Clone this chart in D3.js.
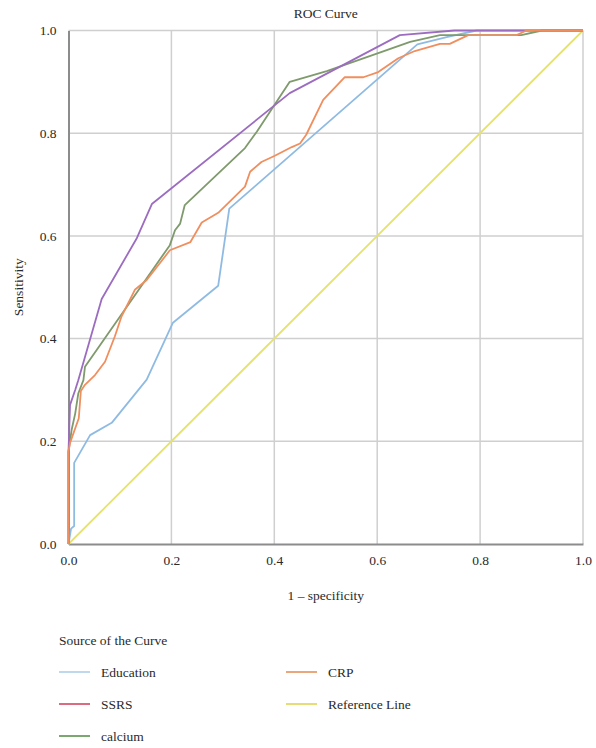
<!DOCTYPE html>
<html lang="en">
<head>
    <meta charset="UTF-8">
    <title>ROC Curve</title>
    <script src="https://cdn.jsdelivr.net/npm/d3@7"></script>
    <style>
        body{
            margin: 0;
            background: #fff;
        }
        text{
            font-family: "Liberation Serif", "DejaVu Serif", serif;
            fill: #2a2a2a;
        }
        .grid line{
            stroke: #cfcfcf;
            stroke-width: 1.5;
        }
        .tick text{
            font-size: 13.5px;
        }
    </style>
</head>
<body>
<div class="container"></div>
<script>
    // data : [1 - specificity, sensitivity]
    const educationX = [0, 0.005, 0.011, 0.011, 0.042, 0.084, 0.152, 0.203, 0.291, 0.3125, 0.678, 0.735, 0.793, 1];
    const educationY = [0, 0.03, 0.035, 0.158, 0.212, 0.236, 0.32, 0.431, 0.503, 0.653, 0.973, 0.987, 1, 1];

    const crpX = [0, 0, 0.003, 0.02, 0.024, 0.032, 0.0515, 0.071, 0.09, 0.103, 0.129, 0.152, 0.197, 0.237, 0.259, 0.291, 0.343, 0.353, 0.375, 0.401, 0.434, 0.45, 0.462, 0.495, 0.537, 0.573, 0.602, 0.641, 0.673, 0.722, 0.741, 0.777, 0.871, 0.89, 1];
    const crpY = [0, 0.18, 0.197, 0.245, 0.298, 0.31, 0.329, 0.355, 0.404, 0.443, 0.495, 0.514, 0.572, 0.588, 0.626, 0.645, 0.696, 0.725, 0.744, 0.756, 0.773, 0.78, 0.797, 0.865, 0.909, 0.909, 0.919, 0.946, 0.96, 0.974, 0.974, 0.991, 0.991, 1, 1];

    const ssrsX = [0, 0, 0.003, 0.013, 0.019, 0.0645, 0.133, 0.162, 0.43, 0.644, 0.75, 1];
    const ssrsY = [0, 0.18, 0.271, 0.3, 0.319, 0.477, 0.596, 0.662, 0.878, 0.991, 1, 1];

    const calciumX = [0, 0, 0.006, 0.013, 0.019, 0.029, 0.032, 0.197, 0.207, 0.217, 0.226, 0.343, 0.366, 0.43, 0.502, 0.602, 0.664, 0.722, 0.88, 0.92, 1];
    const calciumY = [0, 0.18, 0.222, 0.254, 0.293, 0.319, 0.345, 0.582, 0.611, 0.624, 0.66, 0.771, 0.803, 0.9, 0.921, 0.956, 0.978, 0.991, 0.991, 1, 1];

    const refX = [0, 1];
    const refY = [0, 1];

    const ticks = [0, 0.2, 0.4, 0.6, 0.8, 1.0];

    // drawing order + colours of the curves
    const curves = [
        {name: "Reference Line", xs: refX, ys: refY, color: "#e6e36c"},
        {name: "Education", xs: educationX, ys: educationY, color: "#8fbbe3"},
        {name: "calcium", xs: calciumX, ys: calciumY, color: "#7f9a6c"},
        {name: "SSRS", xs: ssrsX, ys: ssrsY, color: "#9c6cc0"},
        {name: "CRP", xs: crpX, ys: crpY, color: "#f08e5e"}
    ];

    // legend entries (two columns)
    const legendNames = ["Education", "SSRS", "calcium", "CRP", "Reference Line"];
    const legendColors = ["#a9cbe8", "#cf3a56", "#4f8a40", "#e58a50", "#ded24c"];

    ////////////////////////////////////////////////////////////////
    /*          Constants and containers                          */
    ////////////////////////////////////////////////////////////////
    const width = 596, height = 748;
    const margins = {top: 30.5, left: 68.5, right: 13, bottom: 204};

    const svg = d3.select(".container")
        .append("svg")
        .attr("width", width)
        .attr("height", height);

    const x = d3.scaleLinear().domain([0, 1]).range([margins.left, width - margins.right]);
    const y = d3.scaleLinear().domain([0, 1]).range([height - margins.bottom, margins.top]);

    // grid lines
    const grid = svg.append("g").attr("class", "grid");
    grid.selectAll(".vg").data(ticks.slice(1)).join("line")
        .attr("x1", d => x(d)).attr("x2", d => x(d))
        .attr("y1", y(0)).attr("y2", y(1));
    grid.selectAll(".hg").data(ticks.slice(1)).join("line")
        .attr("x1", x(0)).attr("x2", x(1))
        .attr("y1", d => y(d)).attr("y2", d => y(d));

    // axes
    const xAxis = svg.append("g")
        .attr("transform", `translate(0,${y(0)})`)
        .call(d3.axisBottom(x).tickValues(ticks).tickFormat(d3.format(".1f")).tickSize(0).tickPadding(11));
    const yAxis = svg.append("g")
        .attr("transform", `translate(${x(0)},0)`)
        .call(d3.axisLeft(y).tickValues(ticks).tickFormat(d3.format(".1f")).tickSize(0).tickPadding(12));
    [xAxis, yAxis].forEach(a => {
        a.select(".domain").attr("stroke", "#8c8c8c").attr("stroke-width", 2);
        a.selectAll(".tick text").attr("fill", "#2a2a2a").style("font-family", "'Liberation Serif', serif");
    });

    // curves
    const line = d3.line().x(d => x(d[0])).y(d => y(d[1]));
    svg.append("g").selectAll("path")
        .data(curves)
        .join("path")
        .attr("d", c => line(c.xs.map((v, i) => [v, c.ys[i]])))
        .attr("fill", "none")
        .attr("stroke", c => c.color)
        .attr("stroke-width", 1.8)
        .attr("stroke-linejoin", "round");

    // titles
    svg.append("text")
        .attr("x", (x(0) + x(1)) / 2).attr("y", 18)
        .attr("text-anchor", "middle")
        .attr("font-size", "13.5px")
        .text("ROC Curve");
    svg.append("text")
        .attr("x", (x(0) + x(1)) / 2).attr("y", 600)
        .attr("text-anchor", "middle")
        .attr("font-size", "13.5px")
        .text("1 \u2013 specificity");
    svg.append("text")
        .attr("transform", `translate(23,${(y(0) + y(1)) / 2}) rotate(-90)`)
        .attr("text-anchor", "middle")
        .attr("font-size", "13.5px")
        .text("Sensitivity");

    ////////////////////////////////////////////////
    /*              Legend                        */
    ////////////////////////////////////////////////
    const legend = svg.append("g").attr("transform", "translate(59,0)");
    legend.append("text").attr("x", 0).attr("y", 645).attr("font-size", "13.5px").text("Source of the Curve");

    const items = legend.selectAll(".item")
        .data(legendNames)
        .join("g")
        .attr("transform", (d, i) => `translate(${i < 3 ? 0 : 227},${672 + (i % 3) * 32})`);
    items.append("line")
        .attr("x1", 0).attr("x2", 31)
        .attr("stroke", (d, i) => legendColors[i])
        .attr("stroke-width", 1.5);
    items.append("text")
        .attr("x", 42).attr("y", 5)
        .attr("font-size", "13.5px")
        .text(d => d);
</script>
</body>
</html>
